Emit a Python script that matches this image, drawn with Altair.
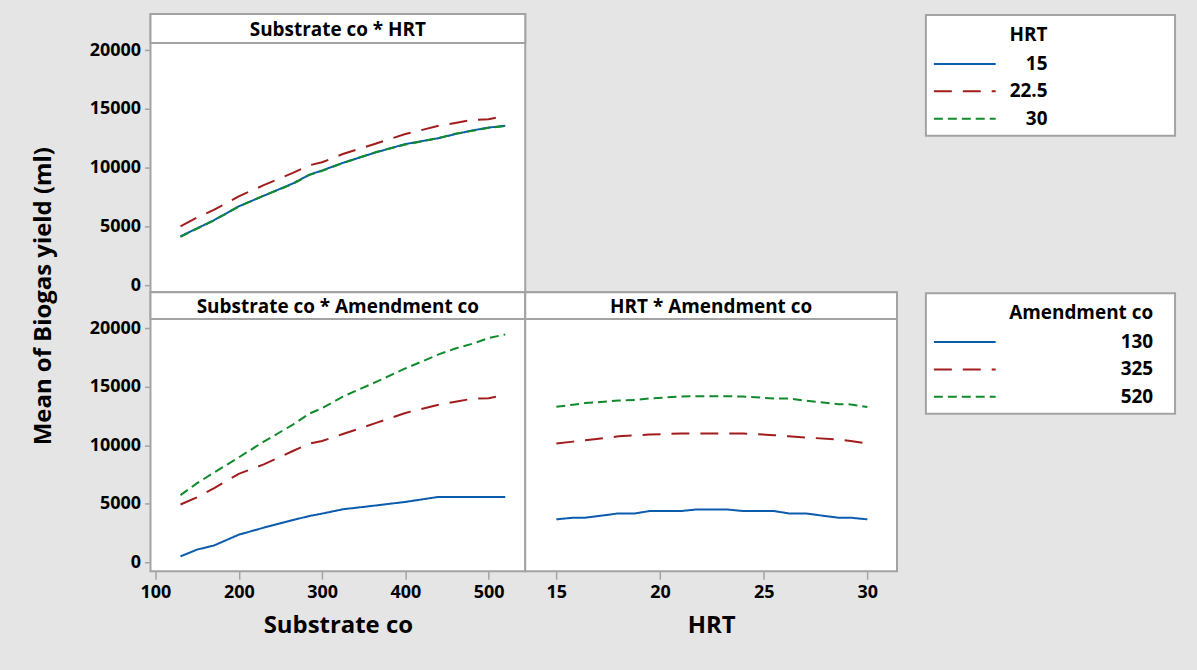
import altair as alt
import pandas as pd

# ---- data -------------------------------------------------------------
substrate_co = [130, 150, 170, 200, 230, 265, 285, 300, 325, 365, 400, 440, 460, 480, 500, 520]
hrt_values = [15, 15.8, 16.4, 18, 18.8, 19.5, 21, 21.8, 23.2, 24, 25.5, 26.2, 27, 28.6, 29.2, 30]

hrt_levels = ["15", "22.5", "30"]
amend_levels = ["130", "325", "520"]

# Substrate co * HRT
sub_hrt_15 = [4150, 4830, 5510, 6700, 7600, 8650, 9400, 9750, 10400, 11300, 12000, 12500, 12850, 13150, 13400, 13560]
sub_hrt_225 = [5000, 5750, 6400, 7550, 8500, 9550, 10200, 10450, 11150, 12050, 12850, 13550, 13800, 14050, 14120, 14410]
sub_hrt_30 = [4100, 4800, 5500, 6680, 7620, 8600, 9380, 9720, 10380, 11330, 11950, 12520, 12870, 13120, 13380, 13540]

# Substrate co * Amendment co
sub_am_130 = [500, 1080, 1420, 2350, 2950, 3600, 3950, 4150, 4520, 4850, 5150, 5580, 5580, 5580, 5580, 5580]
sub_am_325 = [4930, 5550, 6300, 7550, 8350, 9500, 10130, 10350, 10950, 11900, 12750, 13450, 13700, 13960, 14000, 14300]
sub_am_520 = [5730, 6750, 7650, 8950, 10300, 11750, 12700, 13150, 14150, 15400, 16550, 17750, 18250, 18650, 19150, 19450]

# HRT * Amendment co
hrt_am_130 = [3660, 3800, 3800, 4170, 4170, 4370, 4370, 4510, 4510, 4370, 4370, 4170, 4170, 3800, 3800, 3660]
hrt_am_325 = [10130, 10300, 10420, 10750, 10840, 10900, 11000, 11000, 11000, 11000, 10850, 10750, 10660, 10470, 10350, 10130]
hrt_am_520 = [13280, 13450, 13590, 13810, 13850, 13990, 14150, 14180, 14180, 14150, 13990, 13990, 13800, 13500, 13480, 13250]

y_ticks = [0, 5000, 10000, 15000, 20000]
substrate_ticks = [100, 200, 300, 400, 500]
hrt_ticks = [15, 20, 25, 30]


def long_frame(xname, xs, levels, series):
    rows = []
    for lvl, ys in zip(levels, series):
        for xv, yv in zip(xs, ys):
            rows.append({xname: xv, "level": lvl, "yield": yv})
    return pd.DataFrame(rows)


df_sub_hrt = long_frame("Substrate co", substrate_co, hrt_levels, [sub_hrt_15, sub_hrt_225, sub_hrt_30])
df_sub_am = long_frame("Substrate co", substrate_co, amend_levels, [sub_am_130, sub_am_325, sub_am_520])
df_hrt_am = long_frame("HRT", hrt_values, amend_levels, [hrt_am_130, hrt_am_325, hrt_am_520])

# ---- style ------------------------------------------------------------
FONT = "Open Sans"
GRAY = "#A3A3A3"
BG = "#E5E5E5"
COLORS = ["#0B5CAD", "#A11C1C", "#118A2C"]
DASHES = [[1, 0], [18, 11], [9, 5]]
LINE_W = 2
CLEAR = alt.ViewBackground(stroke="transparent", fill="transparent")

LEFT_W = 376
RIGHT_W = 373
LEGEND_GAP = 29
LEGEND_W = 250
Y_DOMAIN_TOP = [-600, 20600]
Y_DOMAIN_BOTTOM = [-770, 20770]


def style_channels(levels):
    color = alt.Color("level:N", scale=alt.Scale(domain=levels, range=COLORS), legend=None)
    dash = alt.StrokeDash("level:N", scale=alt.Scale(domain=levels, range=DASHES), legend=None)
    return color, dash


def y_axis():
    return alt.Axis(values=y_ticks, format="d", title=None, domain=False, grid=False,
                    tickColor=GRAY, tickSize=6, tickWidth=1.5, labelPadding=4,
                    labelFont=FONT, labelFontSize=18, labelFontWeight="bold", labelColor="black")


def x_axis(ticks, title):
    return alt.Axis(values=ticks, format="d", title=title, domain=False, grid=False,
                    tickColor=GRAY, tickSize=8, tickWidth=1.5, labelPadding=4,
                    labelFont=FONT, labelFontSize=18, labelFontWeight="bold", labelColor="black",
                    titleFont=FONT, titleFontSize=24, titleFontWeight="bold", titleColor="black",
                    titlePadding=12)


def panel(df, xfield, xdomain, x_ax, ydomain, y_ax, levels, title, width, strip_h, plot_h):
    """One interaction panel: a titled strip on top of the line plot."""
    total_h = strip_h + plot_h
    color, dash = style_channels(levels)
    head = pd.DataFrame({"t": [title]})
    strip_box = alt.Chart(head).mark_rect(fill="white", stroke=GRAY, strokeWidth=2).encode(
        x=alt.value(0), x2=alt.value(width), y=alt.value(0), y2=alt.value(strip_h))
    strip_text = alt.Chart(head).mark_text(
        font=FONT, fontSize=19, fontWeight="bold", color="black"
    ).encode(text="t:N", x=alt.value(width / 2), y=alt.value(strip_h / 2 + 1))
    lines = alt.Chart(df).mark_line(strokeWidth=LINE_W).encode(
        x=alt.X(f"{xfield}:Q", scale=alt.Scale(domain=xdomain, nice=False, zero=False), axis=x_ax),
        y=alt.Y("yield:Q", scale=alt.Scale(domain=ydomain, nice=False, zero=False,
                                           range=[total_h, strip_h]), axis=y_ax),
        color=color,
        strokeDash=dash,
    )
    return alt.layer(lines, strip_box, strip_text).properties(width=width, height=total_h)


def legend_box(title, levels, text_right, cell_h):
    """Boxed key drawn as its own small chart (box offset from the panels by LEGEND_GAP)."""
    color, dash = style_channels(levels)
    ldf = pd.DataFrame({"level": levels})
    head = pd.DataFrame({"t": [title]})
    x0 = LEGEND_GAP
    box = alt.Chart(head).mark_rect(fill="white", stroke=GRAY, strokeWidth=2).encode(
        x=alt.value(x0), x2=alt.value(x0 + LEGEND_W), y=alt.value(1), y2=alt.value(122))
    yenc = alt.Y("level:N", sort=levels,
                 scale=alt.Scale(type="point", domain=levels, range=[50, 105], padding=0), axis=None)
    lines = alt.Chart(ldf).mark_rule(strokeWidth=LINE_W).encode(
        x=alt.value(x0 + 8), x2=alt.value(x0 + 70), y=yenc, color=color, strokeDash=dash)
    labels = alt.Chart(ldf).mark_text(
        font=FONT, fontSize=19, fontWeight="bold", color="black", align="right"
    ).encode(x=alt.value(x0 + text_right), y=yenc, text="level:N")
    title_mark = alt.Chart(head).mark_text(
        font=FONT, fontSize=19, fontWeight="bold", color="black", align="right"
    ).encode(x=alt.value(x0 + text_right), y=alt.value(21), text="t:N")
    return alt.layer(box, lines, labels, title_mark).properties(
        width=x0 + LEGEND_W + 1, height=cell_h, view=CLEAR)


# ---- panels -----------------------------------------------------------
TOP_STRIP, TOP_PLOT = 29, 250
BOT_STRIP, BOT_PLOT = 27, 253

panel1 = panel(df_sub_hrt, "Substrate co", [94, 544], None, Y_DOMAIN_TOP, y_axis(),
               hrt_levels, "Substrate co * HRT", LEFT_W, TOP_STRIP, TOP_PLOT)
panel2 = panel(df_sub_am, "Substrate co", [94, 544], x_axis(substrate_ticks, "Substrate co"),
               Y_DOMAIN_BOTTOM, y_axis(), amend_levels, "Substrate co * Amendment co",
               LEFT_W, BOT_STRIP, BOT_PLOT)
panel3 = panel(df_hrt_am, "HRT", [13.5, 31.43], x_axis(hrt_ticks, "HRT"),
               Y_DOMAIN_BOTTOM, None, amend_levels, "HRT * Amendment co",
               RIGHT_W, BOT_STRIP, BOT_PLOT)

empty_cell = alt.Chart(pd.DataFrame({"a": [0]})).mark_point(opacity=0).encode(
    x=alt.value(0), y=alt.value(0)).properties(width=RIGHT_W, height=TOP_STRIP + TOP_PLOT, view=CLEAR)

grid = alt.concat(
    panel1, empty_cell, legend_box("HRT", hrt_levels, 122, TOP_STRIP + TOP_PLOT),
    panel2, panel3, legend_box("Amendment co", amend_levels, 228, BOT_STRIP + BOT_PLOT),
    columns=3, spacing=0, bounds="flush", align="each",
)

y_title = alt.Chart(pd.DataFrame({"t": ["Mean of Biogas yield (ml)"]})).mark_text(
    font=FONT, fontSize=24, fontWeight="bold", color="black", angle=270
).encode(text="t:N", x=alt.value(12), y=alt.value(283)).properties(
    width=24, height=558, view=CLEAR)

chart = alt.hconcat(y_title, grid, spacing=31).configure(
    background=BG,
    padding={"left": 30, "top": 9, "right": 20, "bottom": 33},
    font=FONT,
).configure_view(stroke=GRAY, strokeWidth=2, fill="white")

chart.save("out.html", embed_options={"renderer": "svg", "actions": False})
